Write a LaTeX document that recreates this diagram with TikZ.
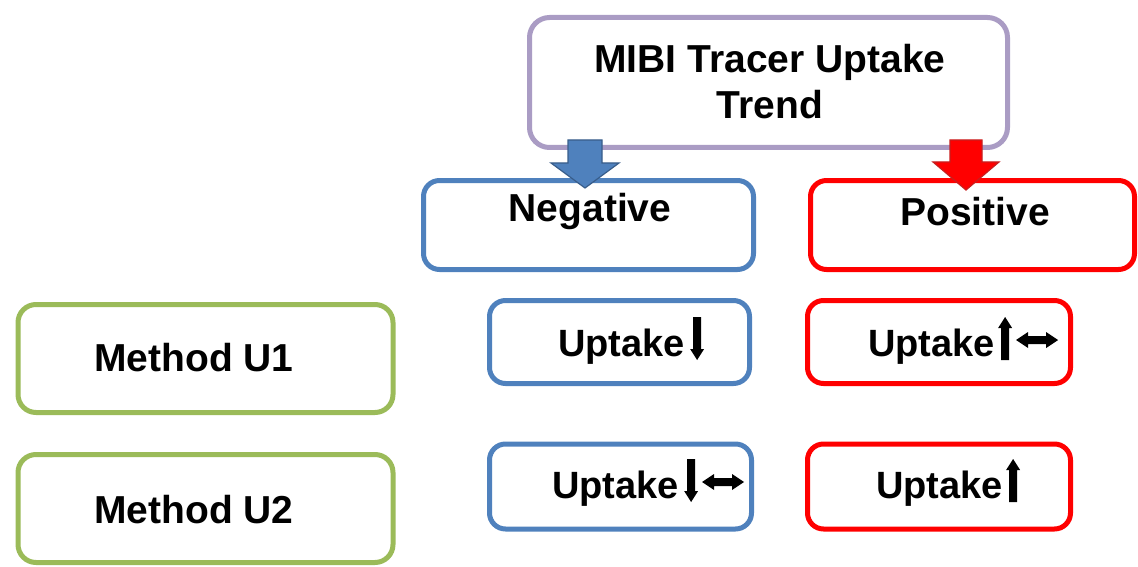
\documentclass[tikz,border=0pt]{standalone}
\usepackage{fontspec}
\setmainfont{Liberation Sans}
\usetikzlibrary{calc}
\definecolor{mpurple}{RGB}{170,156,196}
\definecolor{mblue}{RGB}{79,129,189}
\definecolor{mbluedark}{RGB}{56,93,138}
\definecolor{mred}{RGB}{255,0,0}
\definecolor{mreddark}{RGB}{200,30,30}
\definecolor{mgreen}{RGB}{155,187,89}
\tikzset{
  box/.style={draw, line width=5pt, rounded corners=20pt, fill=white, inner sep=0pt},
  purplebox/.style={box, draw=mpurple},
  bluebox/.style={box, draw=mblue, rounded corners=16pt},
  redbox/.style={box, draw=mred, rounded corners=16pt},
  greenbox/.style={box, draw=mgreen, rounded corners=18pt},
  lbl/.style={font=\fontsize{39}{46}\selectfont\bfseries, align=center, inner sep=0pt},
  ulbl/.style={font=\fontsize{38}{44}\selectfont\bfseries, inner sep=0pt, anchor=base west},
  blockarrow/.style={line width=1.2pt, line join=miter},
  downarr/.pic={\fill[black] (-4,-39) -- (4,-39) -- (4,-7) -- (7,-7) -- (0,4) -- (-7,-7) -- (-4,-7) -- cycle;},
  uparr/.pic={\fill[black] (-4,4) -- (4,4) -- (4,-28) -- (7,-28) -- (0,-39) -- (-7,-28) -- (-4,-28) -- cycle;},
  lrarr/.pic={\fill[black] (0,-16) -- (12,-24) -- (12,-20) -- (30,-20) -- (30,-24) -- (42,-16) -- (30,-8) -- (30,-12) -- (12,-12) -- (12,-8) -- cycle;},
}
\begin{document}
\begin{tikzpicture}[x=1pt,y=-1pt]
\useasboundingbox (0,0) rectangle (1138,567);
% top box
\node[purplebox, minimum width=478pt, minimum height=130pt] (top) at (768.5,82.5) {};
\node[lbl] (toptext) at (770,82) {MIBI Tracer Uptake\\Trend};
% negative / positive
\node[bluebox, minimum width=330pt, minimum height=89pt] (neg) at (588.5,225) {};
\node[lbl] (negtext) at (590,212) {Negative};
\node[redbox, minimum width=324pt, minimum height=89pt] (pos) at (972.5,225) {};
\node[lbl] (postext) at (975,212) {Positive};
% block arrows
\coordinate (ba) at (585,140);
\coordinate (bb) at (585,188);
\filldraw[blockarrow, fill=mblue, draw=mbluedark]
  ($(ba)+(-17,0)$) -- ($(ba)+(17,0)$) -- ($(ba)+(17,23)$) -- ($(ba)+(34,23)$)
  -- (bb) -- ($(ba)+(-34,23)$) -- ($(ba)+(-17,23)$) -- cycle;
\coordinate (ra) at (966,140);
\coordinate (rb) at (966,190);
\filldraw[blockarrow, fill=mred, draw=mreddark]
  ($(ra)+(-16,0)$) -- ($(ra)+(16,0)$) -- ($(ra)+(16,22)$) -- ($(ra)+(33,22)$)
  -- (rb) -- ($(ra)+(-33,22)$) -- ($(ra)+(-16,22)$) -- cycle;
% methods
\node[greenbox, minimum width=375pt, minimum height=108pt] (u1) at (205.5,358.5) {};
\node[lbl] (u1text) at (194,358) {Method U1};
\node[greenbox, minimum width=375pt, minimum height=108pt] (u2) at (205.5,508.5) {};
\node[lbl] (u2text) at (194,510) {Method U2};
% uptake boxes
\node[bluebox, minimum width=260pt, minimum height=83pt] (n1) at (619.5,342) {};
\node[ulbl] (n1text) at (558,356) {Uptake};
\pic at ($(n1text.base east)+(12,0)$) {downarr};
\node[redbox, minimum width=263pt, minimum height=83pt] (p1) at (939,342) {};
\node[ulbl] (p1text) at (868,356) {Uptake};
\pic at ($(p1text.base east)+(10,0)$) {uparr};
\pic at ($(p1text.base east)+(21,0)$) {lrarr};
\node[bluebox, minimum width=262pt, minimum height=85pt] (n2) at (620.5,486.5) {};
\node[ulbl] (n2text) at (552,498) {Uptake};
\pic at ($(n2text.base east)+(12,0)$) {downarr};
\pic at ($(n2text.base east)+(23,0)$) {lrarr};
\node[redbox, minimum width=263pt, minimum height=85pt] (p2) at (939,486.5) {};
\node[ulbl] (p2text) at (876,498) {Uptake};
\pic at ($(p2text.base east)+(10,0)$) {uparr};
\end{tikzpicture}
\end{document}
